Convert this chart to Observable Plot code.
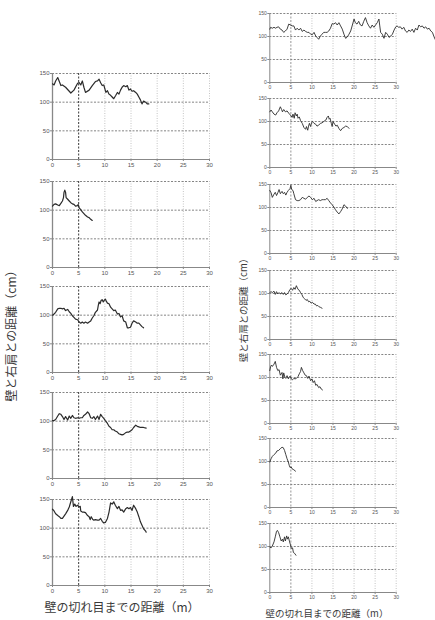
<!DOCTYPE html>
<html><head><meta charset="utf-8">
<script src="https://cdn.jsdelivr.net/npm/d3@7"></script>
<script src="https://cdn.jsdelivr.net/npm/@observablehq/plot@0.6"></script>
<style>
html,body{margin:0;padding:0;background:#fff;}
#wrap{position:relative;width:435px;height:620px;overflow:hidden;background:#fff;font-family:"Noto Sans CJK JP","Noto Sans",sans-serif;color:#333;}
.p{position:absolute;}
.lab{position:absolute;white-space:nowrap;color:#3a3a3a;font-family:"Noto Sans CJK JP","Noto Sans",sans-serif;}
</style></head>
<body><div id="wrap"></div>
<script>
// ---- data ----
const xTicks = [0, 5, 10, 15, 20, 25, 30];
const yTicks = [0, 50, 100, 150];
const yTitle = "壁と右肩との距離（cm）";
const xTitle = "壁の切れ目までの距離（m）";

// left column (distance m, value cm)
const L1 = [[0,132],[0.3,130],[0.6,137],[1.0,143],[1.6,129],[1.9,130],[2.5,126],[3.2,119],[3.5,116],[4.1,121],[4.8,133],[5.1,134],[5.4,130],[5.7,137],[6.0,126],[6.3,117],[7.0,121],[7.6,129],[8.2,136],[8.6,137],[8.9,140],[9.2,134],[9.5,129],[9.8,130],[10.2,117],[10.5,120],[10.8,114],[11.1,112],[11.4,109],[11.7,106],[12.1,112],[12.4,117],[12.7,114],[13.0,121],[13.3,126],[13.6,129],[14.0,127],[14.3,129],[14.6,121],[14.9,123],[15.2,119],[15.5,120],[15.9,117],[16.2,114],[16.5,109],[16.8,104],[17.1,97],[17.4,102],[17.8,100],[18.1,97],[18.4,97]];
const L2 = [[0,107],[0.3,110],[0.6,111],[1.0,109],[1.3,108],[1.6,112],[1.9,116],[2.1,122],[2.2,131],[2.35,135],[2.5,131],[2.6,122],[2.9,119],[3.2,116],[3.5,113],[3.8,111],[4.1,110],[4.4,107],[4.8,108],[4.9,110],[5.1,104],[5.4,101],[5.7,97],[6.0,94],[6.3,91],[6.7,88],[7.0,87],[7.3,84],[7.6,82]];
const L3 = [[0,100],[0.3,102],[0.6,105],[1.0,111],[1.3,112],[1.6,112],[1.9,111],[2.2,112],[2.5,108],[2.9,110],[3.2,106],[3.5,103],[3.8,99],[4.1,96],[4.4,93],[4.8,92],[5.1,88],[5.4,86],[5.7,88],[6.0,86],[6.3,88],[6.7,86],[7.0,88],[7.3,90],[7.6,95],[7.9,99],[8.2,105],[8.6,109],[8.75,117],[8.9,123],[9.1,120],[9.3,126],[9.5,127],[9.7,123],[9.9,126],[10.1,128],[10.3,124],[10.5,121],[10.8,120],[11.1,114],[11.4,111],[11.7,108],[12.0,109],[12.4,102],[12.7,103],[13.0,97],[13.3,99],[13.6,90],[14.0,88],[14.3,78],[14.6,78],[14.9,79],[15.2,86],[15.5,90],[15.9,88],[16.2,86],[16.5,86],[16.8,83],[17.1,80],[17.4,78]];
const L4 = [[0,101],[0.3,101],[0.6,103],[1.0,109],[1.3,113],[1.6,112],[1.9,108],[2.2,103],[2.5,108],[2.9,102],[3.2,109],[3.5,105],[3.8,110],[4.1,106],[4.4,105],[4.8,106],[5.1,105],[5.4,106],[5.7,106],[6.0,110],[6.3,112],[6.7,116],[7.0,113],[7.3,106],[7.6,105],[7.9,108],[8.2,103],[8.6,109],[8.9,103],[9.2,112],[9.5,108],[9.8,105],[10.1,101],[10.5,96],[10.8,91],[11.1,89],[11.4,85],[11.7,85],[12.0,83],[12.4,81],[12.7,78],[13.0,77],[13.3,76],[13.6,77],[14.0,80],[14.3,81],[14.6,81],[14.9,83],[15.2,85],[15.5,89],[15.9,93],[16.2,91],[16.5,90],[16.8,89],[17.4,89],[17.9,88]];
const L5 = [[0,133],[0.3,130],[0.6,125],[1.0,122],[1.3,120],[1.6,117],[1.9,117],[2.2,121],[2.5,125],[2.9,131],[3.2,137],[3.5,146],[3.8,155],[4.0,138],[4.25,142],[4.5,138],[4.8,140],[5.1,137],[5.3,138],[5.4,130],[5.7,128],[6.0,128],[6.3,127],[6.7,122],[7.0,120],[7.2,115],[7.4,120],[7.7,115],[7.9,114],[8.2,115],[8.6,114],[8.9,114],[9.2,117],[9.5,112],[9.8,109],[10.1,110],[10.5,117],[10.8,128],[11.1,144],[11.4,142],[11.7,146],[12.0,140],[12.4,134],[12.7,138],[13.0,131],[13.3,132],[13.6,128],[14.0,134],[14.3,136],[14.6,134],[14.9,136],[15.2,131],[15.5,140],[15.9,134],[16.2,128],[16.5,120],[16.8,111],[17.1,105],[17.4,99],[17.8,95],[17.9,93]];

// right column
const R1 = [[0,116],[0.2,120],[0.6,118],[1.0,120],[1.4,118],[1.7,120],[2.1,121],[2.5,116],[2.9,114],[3.3,109],[3.7,112],[4.1,116],[4.5,127],[4.9,125],[5.3,123],[5.7,123],[6.1,114],[6.5,118],[6.9,114],[7.3,118],[7.7,111],[8.1,114],[8.5,111],[8.9,109],[9.3,109],[9.7,105],[10.1,104],[10.5,109],[10.9,101],[11.2,98],[11.6,94],[12.0,101],[12.4,105],[12.8,109],[13.2,109],[13.6,109],[14.0,112],[14.4,118],[14.8,128],[15.2,127],[15.6,130],[16.0,125],[16.4,130],[16.8,123],[17.2,116],[17.6,105],[18.0,96],[18.4,99],[18.8,105],[19.2,112],[19.6,125],[20.0,138],[20.3,130],[20.7,127],[21.1,133],[21.5,125],[21.9,123],[22.3,133],[22.7,141],[23.1,130],[23.5,123],[23.9,118],[24.3,125],[24.7,120],[25.1,125],[25.5,130],[25.9,138],[26.1,123],[26.3,109],[26.7,105],[27.1,96],[27.5,109],[27.9,105],[28.3,98],[28.7,101],[29.1,105],[29.5,114],[29.9,121],[30.2,123],[30.6,120],[31.0,121],[31.4,116],[31.8,120],[32.2,112],[32.6,109],[33.0,114],[33.4,111],[33.8,116],[34.2,109],[34.6,118],[35.0,114],[35.4,125],[35.8,121],[36.2,123],[36.6,118],[37.0,121],[37.4,116],[37.8,118],[38.2,112],[38.6,109],[39.0,99],[39.4,91]];
const R2 = [[0,121],[0.3,125],[0.6,121],[1.0,116],[1.4,114],[1.7,119],[2.1,123],[2.5,132],[2.8,126],[3.0,121],[3.3,126],[3.7,121],[4.1,123],[4.5,118],[4.9,114],[5.3,109],[5.5,116],[5.8,107],[6.0,119],[6.3,112],[6.5,116],[6.7,107],[7.0,110],[7.3,102],[7.7,96],[8.1,87],[8.5,83],[8.7,89],[9.0,81],[9.2,90],[9.4,96],[9.7,89],[9.9,97],[10.1,100],[10.5,96],[10.9,94],[11.2,90],[11.6,92],[12.0,96],[12.4,97],[12.8,100],[13.1,102],[13.3,103],[13.6,109],[13.9,112],[14.1,105],[14.3,107],[14.6,96],[14.8,89],[15.0,100],[15.4,94],[15.7,90],[16.0,92],[16.4,85],[16.8,80],[17.2,85],[17.6,87],[18.0,90],[18.4,89],[18.8,85]];
const R3 = [[0,137],[0.3,132],[0.6,122],[1.0,129],[1.3,133],[1.6,126],[1.9,132],[2.2,139],[2.5,130],[2.9,135],[3.2,130],[3.5,133],[3.8,127],[4.1,133],[4.4,137],[4.8,141],[5.0,148],[5.2,139],[5.5,137],[5.7,130],[6.1,117],[6.5,115],[6.9,115],[7.3,117],[7.7,122],[8.1,120],[8.5,118],[8.9,122],[9.3,125],[9.7,122],[10.1,117],[10.5,120],[10.9,113],[11.2,115],[11.6,117],[12.0,115],[12.4,117],[12.8,117],[13.2,117],[13.6,120],[14.0,115],[14.4,110],[14.8,106],[15.2,101],[15.6,95],[16.0,90],[16.4,86],[16.8,91],[17.2,97],[17.6,106],[18.0,103],[18.4,98]];
const R4 = [[0,102],[0.3,104],[0.6,102],[1.0,105],[1.3,98],[1.6,104],[1.9,99],[2.2,102],[2.5,99],[2.9,102],[3.2,98],[3.5,102],[3.8,97],[4.1,99],[4.4,102],[4.8,109],[5.1,111],[5.4,107],[5.7,113],[6.0,109],[6.3,117],[6.7,109],[7.0,107],[7.3,102],[7.6,98],[7.9,92],[8.2,89],[8.6,85],[8.9,87],[9.2,82],[9.5,83],[9.8,79],[10.1,81],[10.5,77],[10.8,77],[11.1,73],[11.4,74],[11.7,71],[12.0,70],[12.4,68]];
const R5 = [[0,115],[0.2,124],[0.4,127],[0.6,124],[1.0,129],[1.3,135],[1.6,122],[1.9,115],[2.2,117],[2.5,105],[2.9,111],[3.1,97],[3.3,110],[3.6,100],[3.8,98],[4.1,104],[4.4,97],[4.8,103],[5.1,97],[5.4,95],[5.7,98],[6.0,97],[6.3,98],[6.7,102],[7.0,108],[7.3,113],[7.5,122],[7.8,115],[8.1,110],[8.4,105],[8.7,104],[9.0,98],[9.3,103],[9.7,93],[10.0,97],[10.3,89],[10.6,93],[10.9,83],[11.2,85],[11.6,78],[11.9,80],[12.2,75],[12.5,73]];
const R6 = [[0,99],[0.3,106],[0.6,111],[1.0,115],[1.4,118],[1.7,123],[2.1,124],[2.5,128],[2.9,131],[3.2,130],[3.5,124],[3.8,115],[4.1,106],[4.4,99],[4.6,92],[4.8,87],[5.1,88],[5.3,84],[5.7,82],[6.1,79]];
const R7 = [[0,99],[0.3,97],[0.6,101],[1.0,110],[1.3,121],[1.6,133],[1.8,135],[2.1,130],[2.4,121],[2.7,112],[3.0,116],[3.2,110],[3.5,121],[3.7,112],[4.0,123],[4.2,116],[4.4,121],[4.7,110],[4.9,104],[5.1,96],[5.4,97],[5.6,87],[5.9,85],[6.2,81]];

// ---- drawing ----
const wrap = document.getElementById("wrap");

function panel(data, o) {
  const chart = Plot.plot({
    width: o.width, height: o.mt + o.ph + o.mb,
    marginLeft: o.ml, marginRight: o.width - o.ml - o.pw,
    marginTop: o.mt, marginBottom: o.mb,
    x: {domain: [0, 30], ticks: xTicks},
    y: {domain: [0, 150], ticks: yTicks},
    style: {background: "transparent", overflow: "visible", fontFamily: "Liberation Sans, Arial, sans-serif", color: "#555"},
    marks: [
      Plot.ruleX(xTicks.filter(d => d > 5), {stroke: "#b5b5b5", strokeWidth: 0.8, strokeDasharray: "1,1.5"}),
      Plot.ruleY(yTicks.filter(d => d > 0), {stroke: "#666", strokeWidth: 0.8, strokeDasharray: "2,1.5"}),
      Plot.ruleX([5], {stroke: o.fiveColor, strokeWidth: 0.9, strokeDasharray: "2,1.5"}),
      Plot.ruleX([0], {stroke: "#888", strokeWidth: o.axw}),
      Plot.ruleY([0], {stroke: "#888", strokeWidth: 1}),
      Plot.axisX({ticks: xTicks, tickSize: 2, tickPadding: 1, fontSize: o.fs, stroke: "#888"}),
      Plot.axisY({ticks: yTicks, tickSize: 2, tickPadding: 1, fontSize: o.fs, stroke: "#888"}),
      Plot.line(data, {x: d => d[0], y: d => d[1], stroke: "#2b2b2b", strokeWidth: o.lw})
    ]
  });
  const d = document.createElement("div");
  d.className = "p";
  d.style.left = o.left + "px";
  d.style.top = (o.top - o.mt) + "px";
  d.appendChild(chart);
  wrap.appendChild(d);
}

const leftData = [L1, L2, L3, L4, L5];
const leftTops = [73, 181, 286, 392, 499];
leftData.forEach((data, i) => panel(data, {
  left: 0, top: leftTops[i], width: 222, ml: 52, pw: 157, mt: 8, ph: 86, mb: 14, fs: 6, lw: 1.2, axw: 1.3, fiveColor: "#222"
}));

const rightData = [R1, R2, R3, R4, R5, R6, R7];
const rightTops = [13, 98, 184, 270, 354, 438, 523];
rightData.forEach((data, i) => panel(data, {
  left: 240, top: rightTops[i], width: 195, ml: 29.3, pw: 126.4, mt: 6, ph: 69, mb: 12, fs: 5, lw: 0.9, axw: 1, fiveColor: "#8a8a8a"
}));

function label(text, x, y, size, rot) {
  const d = document.createElement("div");
  d.className = "lab";
  d.textContent = text;
  d.style.left = x + "px";
  d.style.top = y + "px";
  d.style.fontSize = size + "px";
  d.style.transform = "translate(-50%,-50%)" + (rot ? " rotate(-90deg)" : "");
  wrap.appendChild(d);
}
label(yTitle, 10, 333, 12, true);
label(xTitle, 122, 606, 12, false);
label(yTitle, 243, 308, 9.5, true);
label(xTitle, 327, 613, 9.5, false);
</script></body></html>
